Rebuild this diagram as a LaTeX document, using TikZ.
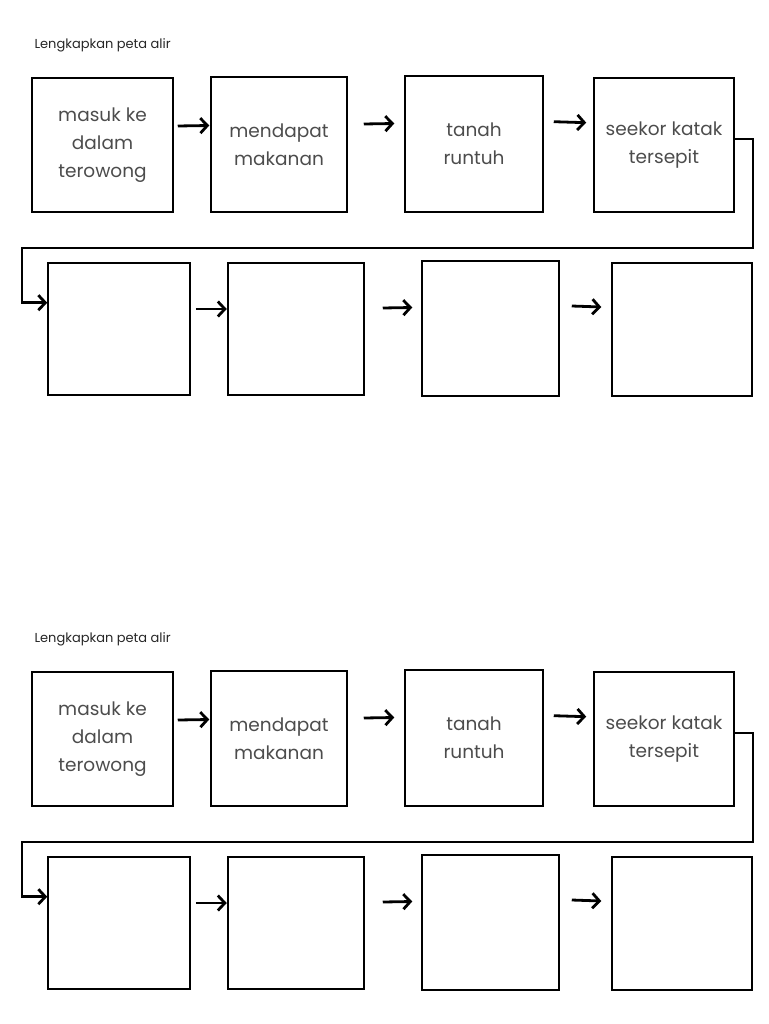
\documentclass[tikz,border=0pt]{standalone}
\usepackage{fontspec}
\setmainfont{Poppins}
\usetikzlibrary{arrows.meta,positioning}

\begin{document}
\begin{tikzpicture}[x=1pt, y=-1pt,
    box/.style={rectangle, draw=black, line width=1.5pt, inner sep=0pt,
                align=center, text=black!70,
                font=\fontsize{18.5}{28}\selectfont},
    flow/.style={-{Straight Barb[length=7pt, width=15pt]}, line width=2.8pt},
    heading/.style={anchor=west, text=black!85, font=\fontsize{13}{15}\selectfont}
  ]
  \useasboundingbox (0,0) rectangle (768,1024);

  % the same worksheet twice, one under the other
  \foreach \k/\dy in {a/0, b/594} {
    \begin{scope}[yshift=-\dy pt]
      \node[heading] (title\k) at (31,45) {Lengkapkan peta alir};

      \foreach \n/\cx/\cy/\w/\h/\txt in {
          1/102.5/145/141/134/{masuk ke\\dalam\\terowong},
          2/279/144.5/136/135/{mendapat\\makanan},
          3/474/144/138/136/{tanah\\runtuh},
          4/664/145/140/134/{seekor katak\\tersepit},
          5/119/329/142/132/{},
          6/296/329/136/132/{},
          7/490.5/328.5/137/135/{},
          8/682/329.5/140/133/{}}
        \node[box, minimum width=\w pt, minimum height=\h pt] (\k\n) at (\cx,\cy) {\txt};

      \foreach \a/\b/\ga/\gb/\r in {1/2/4/1/19, 2/3/16/10/20.5, 3/4/10/7/22.3,
                                    5/6/5/0.5/20, 6/7/18/9/21, 7/8/12/10/22.5}
        \draw[flow] ([xshift=\ga pt, yshift=\r pt]\k\a.east)
          -- ([xshift=-\gb pt, yshift=\r pt]\k\b.west);

      % back to the start of the second row
      \coordinate (turnR\k) at (753,248);
      \coordinate (turnL\k) at (22,248);
      \draw[flow] ([yshift=6pt]\k4.east) -| (turnR\k) -- (turnL\k)
        |- ([yshift=26.3pt]\k5.west);
    \end{scope}
  }
\end{tikzpicture}
\end{document}
